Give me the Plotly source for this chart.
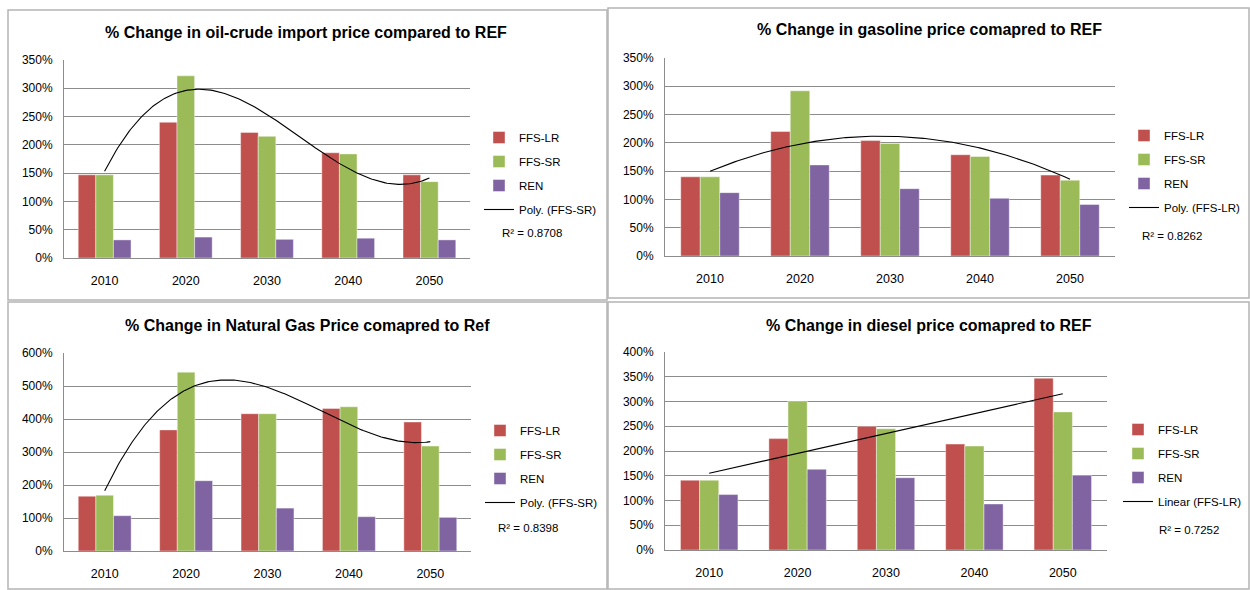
import numpy as np
import plotly.graph_objects as go

W, H = 1250, 590
FONT = "Liberation Sans, Arial, sans-serif"

years = [2010, 2020, 2030, 2040, 2050]
year_labels = ["2010", "2020", "2030", "2040", "2050"]
series_names = ["FFS-LR", "FFS-SR", "REN"]
colors = ["#C0504D", "#9BBB59", "#8064A2"]

# % change in oil-crude import price
oil_lr = [147, 240, 222, 186, 147]
oil_sr = [147, 322, 215, 184, 135]
oil_ren = [32, 37, 33, 35, 32]
# % change in gasoline price
gas_lr = [140, 220, 204, 179, 143]
gas_sr = [140, 292, 199, 176, 134]
gas_ren = [112, 161, 119, 102, 91]
# % change in natural gas price
ng_lr = [166, 367, 416, 432, 391]
ng_sr = [169, 542, 416, 437, 318]
ng_ren = [107, 213, 130, 104, 102]
# % change in diesel price
dsl_lr = [141, 225, 250, 214, 347]
dsl_sr = [141, 301, 245, 210, 279]
dsl_ren = [112, 163, 146, 93, 151]

titles = [
    "% Change in oil-crude import price compared to REF",
    "% Change in gasoline price comapred to REF",
    "% Change in Natural Gas Price comapred to Ref",
    "% Change in diesel price comapred to REF",
]
trend_labels = ["Poly. (FFS-SR)", "Poly. (FFS-LR)", "Poly. (FFS-SR)", "Linear (FFS-LR)"]
r2_labels = ["R² = 0.8708", "R² = 0.8262", "R² = 0.8398", "R² = 0.7252"]

panels = [
    dict(data=[oil_lr, oil_sr, oil_ren], trend=1, order=3, yr=350, dt=50,
         box=(64, 470, 60, 258), title=(306, 32), leg=(479, 123), r2=(500, 233),
         frame=(8, 607, 10, 300)),
    dict(data=[gas_lr, gas_sr, gas_ren], trend=0, order=2, yr=350, dt=50,
         box=(665, 1115, 58, 256), title=(929, 30), leg=(1124, 121), r2=(1140, 236),
         frame=(608, 1249, 8, 298)),
    dict(data=[ng_lr, ng_sr, ng_ren], trend=1, order=3, yr=600, dt=100,
         box=(64, 471, 353, 551), title=(307, 326), leg=(480, 416), r2=(496, 528),
         frame=(8, 607, 302, 589)),
    dict(data=[dsl_lr, dsl_sr, dsl_ren], trend=0, order=1, yr=400, dt=50,
         box=(665, 1107, 352, 550), title=(929, 325), leg=(1118, 415), r2=(1157, 530),
         frame=(608, 1249, 302, 589)),
]

fig = go.Figure()
layout = dict(width=W, height=H, margin=dict(l=0, r=0, t=0, b=0, autoexpand=False),
              paper_bgcolor="white", plot_bgcolor="white",
              barmode="group", bargap=0.35, bargroupgap=0,
              font=dict(family=FONT, size=11, color="#000000"),
              annotations=[], shapes=[])

for i, p in enumerate(panels):
    n = "" if i == 0 else str(i + 1)
    xa, ya = "x" + n, "y" + n
    lg = "legend" if i == 0 else "legend" + n
    x0, x1, y0, y1 = p["box"]
    for k in range(3):
        fig.add_trace(go.Bar(
            x=years, y=p["data"][k], name=series_names[k], xaxis=xa, yaxis=ya,
            marker=dict(color=colors[k], line=dict(width=0.6, color="rgba(255,255,255,0.7)")),
            legend=lg, legendgroup=f"g{i}_{k}", hoverinfo="x+y"))
    ys = p["data"][p["trend"]]
    coef = np.polyfit(np.arange(1, 6), ys, p["order"])
    xs = np.linspace(1, 5, 200)
    fig.add_trace(go.Scatter(
        x=2000 + 10 * xs, y=np.polyval(coef, xs), mode="lines", name=trend_labels[i],
        line=dict(color="black", width=1.1), xaxis=xa, yaxis=ya,
        legend=lg, legendgroup=f"g{i}_t"))

    layout["xaxis" + n] = dict(
        domain=[x0 / W, x1 / W], anchor=ya, range=[2005, 2055], automargin=False,
        tickvals=years, ticktext=year_labels, showgrid=False, zeroline=False,
        showline=True, linecolor="#8c8c8c", linewidth=1, ticks="",
        ticklabelstandoff=11, tickfont=dict(size=12.5), fixedrange=True)
    layout["yaxis" + n] = dict(
        domain=[1 - y1 / H, 1 - y0 / H], anchor=xa, range=[0, p["yr"]], automargin=False,
        dtick=p["dt"], tick0=0, ticksuffix="%", showgrid=True, gridcolor="#8c8c8c",
        gridwidth=1, zeroline=False, showline=True, linecolor="#8c8c8c", linewidth=1,
        ticks="", ticklabelstandoff=8, tickfont=dict(size=12), fixedrange=True)
    layout[lg] = dict(
        x=p["leg"][0] / W, y=1 - p["leg"][1] / H, xanchor="left", yanchor="top",
        bgcolor="rgba(0,0,0,0)", font=dict(size=11.5), tracegroupgap=5,
        traceorder="grouped", itemclick=False, itemdoubleclick=False)
    layout["annotations"].append(dict(
        text=f"<b>{titles[i]}</b>", x=p["title"][0] / W, y=1 - p["title"][1] / H,
        xref="paper", yref="paper", showarrow=False, xanchor="center", yanchor="middle",
        font=dict(size=16, family=FONT)))
    layout["annotations"].append(dict(
        text=r2_labels[i], x=p["r2"][0] / W, y=1 - p["r2"][1] / H,
        xref="paper", yref="paper", showarrow=False, xanchor="left", yanchor="middle",
        font=dict(size=11.5, family=FONT)))
    fx0, fx1, fy0, fy1 = p["frame"]
    layout["shapes"].append(dict(
        type="rect", xref="paper", yref="paper", x0=fx0 / W, x1=fx1 / W,
        y0=1 - fy1 / H, y1=1 - fy0 / H, line=dict(color="#b4b4b4", width=1.5),
        fillcolor="rgba(0,0,0,0)", layer="below"))

fig.update_layout(**layout)
fig.write_html(
    "out.html", config={"displayModeBar": False, "responsive": False},
    post_script="document.documentElement.style.overflow='hidden';"
                "document.body.style.margin='0';document.body.style.padding='0';"
                "document.body.style.overflow='hidden';"
                "var d=document.getElementById('{plot_id}');"
                "d.style.position='absolute';d.style.left='0px';d.style.top='0px';")
